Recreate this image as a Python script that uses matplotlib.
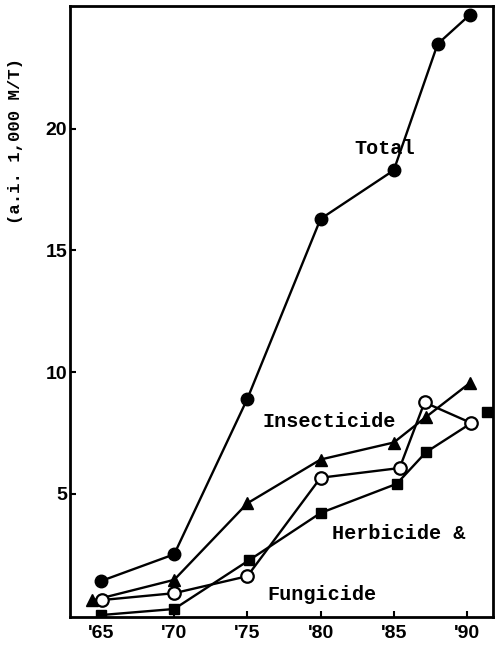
import matplotlib
matplotlib.use("Agg")
import matplotlib.pyplot as plt

# values (a.i. 1,000 M/T)
total_x = [1965, 1970, 1975, 1980, 1985, 1988, 1990.2]
total_y = [1.4, 2.5, 8.9, 16.3, 18.3, 23.5, 24.7]

insect_x = [1964.4, 1970, 1975, 1980, 1985, 1987.2, 1990.2]
insect_y = [0.6, 1.45, 4.6, 6.4, 7.1, 8.15, 9.55]

fung_x = [1965.1, 1970, 1975, 1980, 1985.4, 1987.1, 1990.3]
fung_y = [0.62, 0.9, 1.6, 5.65, 6.05, 8.75, 7.9]

herb_x = [1965, 1970, 1975.1, 1980, 1985.2, 1987.2, 1990.3]
herb_y = [0.0, 0.25, 2.25, 4.2, 5.4, 6.7, 7.9]
herb_last_x, herb_last_y = 1991.4, 8.35

xticks = [1965, 1970, 1975, 1980, 1985, 1990]
xticklabels = ["'65", "'70", "'75", "'80", "'85", "'90"]
yticks = [5, 10, 15, 20]

fig = plt.figure(figsize=(4.96, 6.45), dpi=100)
ax = fig.add_axes([0.141, 0.0434, 0.853, 0.9473])

lw = 1.7
ax.plot(total_x, total_y, color="black", lw=lw, marker="o", markersize=9, zorder=3)
ax.plot(insect_x, insect_y, color="black", lw=lw, marker="^", markersize=8, zorder=3)
ax.plot(herb_x[:-1], herb_y[:-1], color="black", lw=lw, marker="s", markersize=7, zorder=3)
ax.plot(herb_x[-2:], herb_y[-2:], color="black", lw=lw, zorder=2)
ax.plot(fung_x, fung_y, color="black", lw=lw, marker="o", markersize=9,
        markerfacecolor="white", markeredgewidth=1.6, zorder=4)
ax.plot([herb_last_x], [herb_last_y], color="black", marker="s", markersize=7,
        linestyle="none", zorder=3, clip_on=False)

mono = {"family": "Liberation Mono", "weight": "bold", "size": 14.5}
ax.text(1982.3, 19.2, "Total", fontdict=mono, ha="left", va="center")
ax.text(1976.0, 7.95, "Insecticide", fontdict=mono, ha="left", va="center")
ax.text(1980.8, 3.35, "Herbicide &", fontdict=mono, ha="left", va="center")
ax.text(1976.4, 0.85, "Fungicide", fontdict=mono, ha="left", va="center")

ax.set_xlim(1962.88, 1991.78)
ax.set_ylim(-0.08, 25.06)

ax.set_xticks(xticks)
ax.set_xticklabels(xticklabels)
ax.set_yticks(yticks)
ax.tick_params(direction="in", length=4, width=1.5)
ax.tick_params(axis="x", pad=6)
ax.tick_params(axis="y", pad=2)
for lab in ax.get_xticklabels() + ax.get_yticklabels():
    lab.set_family("Liberation Sans")
    lab.set_fontweight("bold")
    lab.set_fontsize(14)

for sp in ax.spines.values():
    sp.set_linewidth(2)

ax.set_ylabel("(a.i. 1,000 M/T)", family="Liberation Mono", weight="bold",
              fontsize=12.5)
ax.yaxis.set_label_coords(-0.11, 0.779)

fig.savefig("out.png", dpi=100)
